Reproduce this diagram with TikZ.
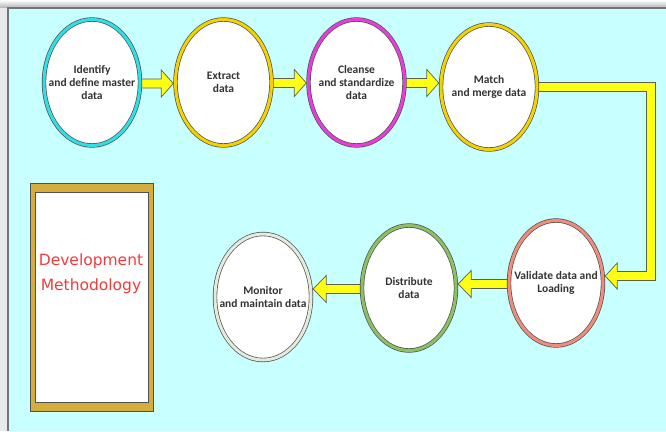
\documentclass[tikz,border=0pt]{standalone}
\usepackage{fontspec}
\newfontfamily\lblfont{Carlito}
\newfontfamily\dvfont{DejaVu Sans}
\usetikzlibrary{shapes.geometric,calc}
\pgfdeclarelayer{back}
\pgfdeclarelayer{bg}
\pgfsetlayers{back,bg,main}
\definecolor{panel}{HTML}{C8FFFF}
\definecolor{panelline}{HTML}{6E7478}
\definecolor{graybg}{HTML}{E8E9EA}
\definecolor{ringline}{HTML}{505050}
\definecolor{ringcyan}{HTML}{2EE0E6}
\definecolor{ringyellow}{HTML}{F2D200}
\definecolor{ringmag}{HTML}{E83CDC}
\definecolor{ringsalmon}{HTML}{F08C7C}
\definecolor{ringgreen}{HTML}{8CC063}
\definecolor{ringgray}{HTML}{E4EBDC}
\definecolor{arrfill}{HTML}{FFFF14}
\definecolor{arrline}{HTML}{5E5E50}
\definecolor{gold}{HTML}{D6AC3C}
\definecolor{devred}{HTML}{F23C3C}
\definecolor{txt}{HTML}{333333}
\tikzset{
  stage/.style={ellipse, draw=ringline, line width=0.7pt, double=#1, double distance=3pt,
    fill=white, minimum width=96pt, minimum height=126pt, inner sep=0pt, outer sep=2.2pt},
  lbl/.style={align=center, text=txt, inner sep=0pt, font=\lblfont\bfseries\fontsize{11.5}{13.3}\selectfont},
  yarrow/.style={fill=arrfill, draw=arrline, line width=0.7pt, line join=miter},
  devframe/.style={rectangle, fill=gold, draw=ringline, line width=0.8pt, inner sep=0pt},
  devpage/.style={rectangle, fill=white, draw=ringline, line width=0.8pt, inner sep=0pt},
  devlbl/.style={align=center, text=devred, inner sep=0pt, font=\dvfont\fontsize{15.5}{25}\selectfont}
}
\newcommand\arrowR[2]{\draw[yarrow] ($(#1)+(0,-4.5)$) -- ($(#2)+(-12,-4.5)$) -- ($(#2)+(-12,-13.5)$) -- (#2) -- ($(#2)+(-12,13.5)$) -- ($(#2)+(-12,4.5)$) -- ($(#1)+(0,4.5)$) -- cycle;}
\newcommand\arrowL[2]{\draw[yarrow] ($(#1)+(0,-4.5)$) -- ($(#2)+(13,-4.5)$) -- ($(#2)+(13,-13.5)$) -- (#2) -- ($(#2)+(13,13.5)$) -- ($(#2)+(13,4.5)$) -- ($(#1)+(0,4.5)$) -- cycle;}
\begin{document}
\begin{tikzpicture}[x=1pt, y=-1pt]
\useasboundingbox (0,0) rectangle (666,431);
\begin{pgfonlayer}{back}
  \fill[graybg] (0,0) rectangle (666,431);
  \fill[top color=white, bottom color=graybg!80!black] (0,0) rectangle (666,7);
  \fill[panel] (8,8) rectangle (666,431);
  \draw[panelline, line width=1.3pt] (8,431) -- (8,8) -- (666,8);
\end{pgfonlayer}

% stages
\node[stage=ringcyan] (identify) at (92,82.5) {};
\node[stage=ringyellow] (extract) at (223.5,82.5) {};
\node[stage=ringmag] (cleanse) at (356.5,82.5) {};
\node[stage=ringyellow, minimum height=125pt] (match) at (489,87) {};
\node[stage=ringsalmon, minimum width=94pt, minimum height=125pt] (validate) at (556,283) {};
\node[stage=ringgreen, minimum width=94pt, minimum height=125pt] (distribute) at (409,288) {};
\node[stage=ringgray, minimum height=126pt] (monitor) at (263,297) {};

\node[lbl] (identify-t) at (identify) {Identify\\and define master\\data};
\node[lbl] (extract-t) at (extract) {Extract\\data};
\node[lbl] (cleanse-t) at (cleanse) {Cleanse\\and standardize\\data};
\node[lbl] (match-t) at (match) {Match\\and merge data};
\node[lbl] (validate-t) at (validate) {Validate data and\\Loading};
\node[lbl] (distribute-t) at (distribute) {Distribute\\data};
\node[lbl] (monitor-t) at (monitor) {Monitor\\and maintain data};

% development box
\node[devframe, minimum width=123pt, minimum height=228pt] (devbox) at (91.5,297) {};
\node[devpage, minimum width=113pt, minimum height=210pt] (devpage) at (91.5,297) {};
\node[devlbl] (devtext) at (91,274) {Development\\Methodology};

% connectors
\coordinate (a1s) at ($(identify.east)+(-3,1)$);
\coordinate (a1e) at ($(extract.west)+(0,1)$);
\coordinate (a2s) at ($(extract.east)+(-3,0.5)$);
\coordinate (a2e) at ($(cleanse.west)+(0,0.5)$);
\coordinate (a3s) at ($(cleanse.east)+(-3,0.5)$);
\coordinate (a3e) at (match.west|-a3s);
\coordinate (a5s) at ($(validate.west)+(3,1)$);
\coordinate (a5e) at (distribute.east|-a5s);
\coordinate (a6s) at ($(distribute.west)+(3,1)$);
\coordinate (a6e) at (monitor.east|-a6s);
\coordinate (bs) at ($(match.east)+(-3,0)$);
\coordinate (bt) at ($(validate.east)+(0,-7)$);
\coordinate (bend) at (651,0);
\begin{pgfonlayer}{bg}
  \arrowR{a1s}{a1e}
  \arrowR{a2s}{a2e}
  \arrowR{a3s}{a3e}
  \arrowL{a5s}{a5e}
  \arrowL{a6s}{a6e}
  \draw[yarrow] ($(bs)+(0,-4.5)$) -- ($(bend|-bs)+(4.5,-4.5)$) -- ($(bend|-bt)+(4.5,4.5)$)
     -- ($(bt)+(12,4.5)$) -- ($(bt)+(12,13)$) -- (bt) -- ($(bt)+(12,-13)$) -- ($(bt)+(12,-4.5)$)
     -- ($(bend|-bt)+(-4.5,-4.5)$) -- ($(bend|-bs)+(-4.5,4.5)$) -- ($(bs)+(0,4.5)$) -- cycle;
\end{pgfonlayer}
\end{tikzpicture}
\end{document}
